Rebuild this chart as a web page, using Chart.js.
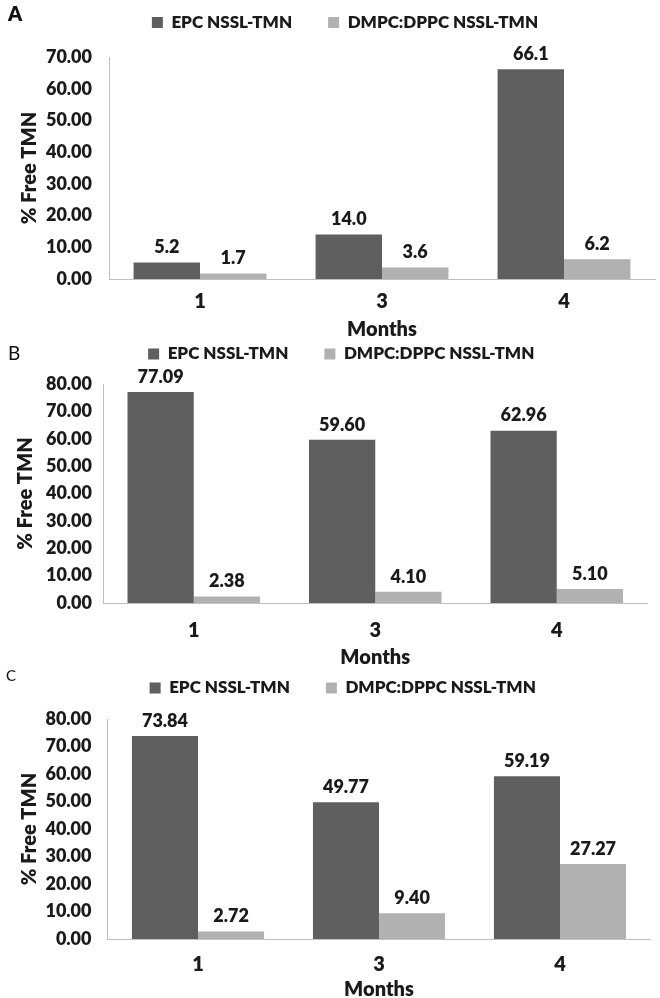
<!DOCTYPE html>
<html><head><meta charset="utf-8">
<script src="https://cdn.jsdelivr.net/npm/chart.js@4.4.1/dist/chart.umd.min.js"></script>
<style>
html,body{margin:0;padding:0;background:#fff;overflow:hidden;}
#page{position:relative;width:660px;height:998px;overflow:hidden;background:#fff;}
.panel{position:absolute;left:0;width:660px;}
.letter{position:absolute;font-family:Lato,'Liberation Sans',sans-serif;color:#111;line-height:1;}
</style></head><body>
<div id="page">
  <div class="panel" style="top:0px;height:346px"><canvas id="cA"></canvas></div>
  <div class="panel" style="top:335px;height:339px"><canvas id="cB"></canvas></div>
  <div class="panel" style="top:660px;height:344px"><canvas id="cC"></canvas></div>
  <div class="letter" style="left:8px;top:3px;font-size:20px;font-weight:800;">A</div>
  <div class="letter" style="left:8px;top:343px;font-size:19px;">B</div>
  <div class="letter" style="left:6px;top:668px;font-size:15px;">C</div>
</div>
<script>
// ---- data ----
const months = ['1', '3', '4'];
const seriesNames = ['EPC NSSL-TMN', 'DMPC:DPPC NSSL-TMN'];
const epcA = [5.2, 14.0, 66.1];
const dmpcA = [1.7, 3.6, 6.2];
const epcB = [77.09, 59.60, 62.96];
const dmpcB = [2.38, 4.10, 5.10];
const epcC = [73.84, 49.77, 59.19];
const dmpcC = [2.72, 9.40, 27.27];
const yMaxA = 70, yMaxB = 80, yMaxC = 80;
const yStep = 10;
const xTitle = 'Months';
const yTitle = '% Free TMN';

const FONT = "Lato,'Liberation Sans',sans-serif";
const W = 800;
const TXT = '#1a1a1a';
const DARK = '#5f5f5f', LIGHT = '#b1b1b1';

function makeChart(id, epc, dmpc, o) {
  const spacer = {
    id: 'legendSpacer',
    beforeLayout(chart) {
      const lg = chart.legend;
      if (lg && !lg._patched) {
        const orig = lg.fit;
        lg.fit = function () { orig.call(this); this.height += o.extra; };
        lg._patched = true;
      }
    }
  };
  const valueLabels = {
    id: 'valueLabels',
    afterDatasetsDraw(chart) {
      const ctx = chart.ctx;
      ctx.save();
      ctx.font = W + ' 18px ' + FONT;
      ctx.fillStyle = TXT;
      ctx.textAlign = 'center';
      ctx.textBaseline = 'middle';
      chart.data.datasets.forEach((ds, di) => {
        const meta = chart.getDatasetMeta(di);
        meta.data.forEach((el, i) => {
          ctx.fillText(ds.data[i].toFixed(o.decimals), el.x, el.y - 15);
        });
      });
      ctx.restore();
    }
  };
  return new Chart(document.getElementById(id), {
    type: 'bar',
    data: {
      labels: months,
      datasets: [
        { label: seriesNames[0], data: epc, backgroundColor: DARK, categoryPercentage: 0.73, barPercentage: 1.0 },
        { label: seriesNames[1], data: dmpc, backgroundColor: LIGHT, categoryPercentage: 0.73, barPercentage: 1.0 }
      ]
    },
    options: {
      responsive: true,
      maintainAspectRatio: false,
      animation: false,
      layout: { padding: { left: o.L, right: o.R, top: o.top, bottom: 0 } },
      plugins: {
        tooltip: { enabled: false },
        legend: {
          position: 'top',
          labels: {
            font: { family: FONT, size: 17, weight: W },
            color: TXT,
            boxWidth: 11,
            boxHeight: 11,
            padding: o.P
          }
        }
      },
      scales: {
        x: {
          grid: { display: false, drawTicks: false },
          border: { display: true, color: '#bfbfbf', width: 1 },
          ticks: { color: TXT, font: { family: FONT, size: 20, weight: W }, padding: o.tickPad },
          title: { display: true, text: xTitle, color: TXT, font: { family: FONT, size: 20, weight: W },
                   padding: { top: o.tpt, bottom: o.tpb } }
        },
        y: {
          min: 0, max: o.yMax,
          grid: { display: false, drawTicks: false },
          border: { display: true, color: '#bfbfbf', width: 1 },
          ticks: { stepSize: yStep, color: TXT, font: { family: FONT, size: 18, weight: W }, padding: o.yTickPad,
                   callback: v => Number(v).toFixed(2) },
          title: { display: true, text: yTitle, color: TXT, font: { family: FONT, size: 20, weight: W },
                   padding: { top: o.yTitlePad, bottom: 0 } },
          afterFit(scale) { scale.width = o.axisX - o.L; }
        }
      }
    },
    plugins: [spacer, valueLabels]
  });
}

makeChart('cA', epcA, dmpcA, { yMax: yMaxA, decimals: 1, L: 35, R: 5, axisX: 109, top: -22, P: 36, extra: 16,
  tickPad: 11, tpt: -7, tpb: 4, yTickPad: 17, yTitlePad: -17 });
makeChart('cB', epcB, dmpcB, { yMax: yMaxB, decimals: 2, L: 35, R: 12.5, axisX: 103, top: -25.5, P: 36, extra: 11.5,
  tickPad: 16, tpt: -13, tpb: 4, yTickPad: 11, yTitlePad: -21 });
makeChart('cC', epcC, dmpcC, { yMax: yMaxC, decimals: 2, L: 35, R: 9.5, axisX: 107.5, top: -16.5, P: 36, extra: 12.5,
  tickPad: 14, tpt: -13, tpb: 2, yTickPad: 16, yTitlePad: -17 });
</script>
</body></html>
